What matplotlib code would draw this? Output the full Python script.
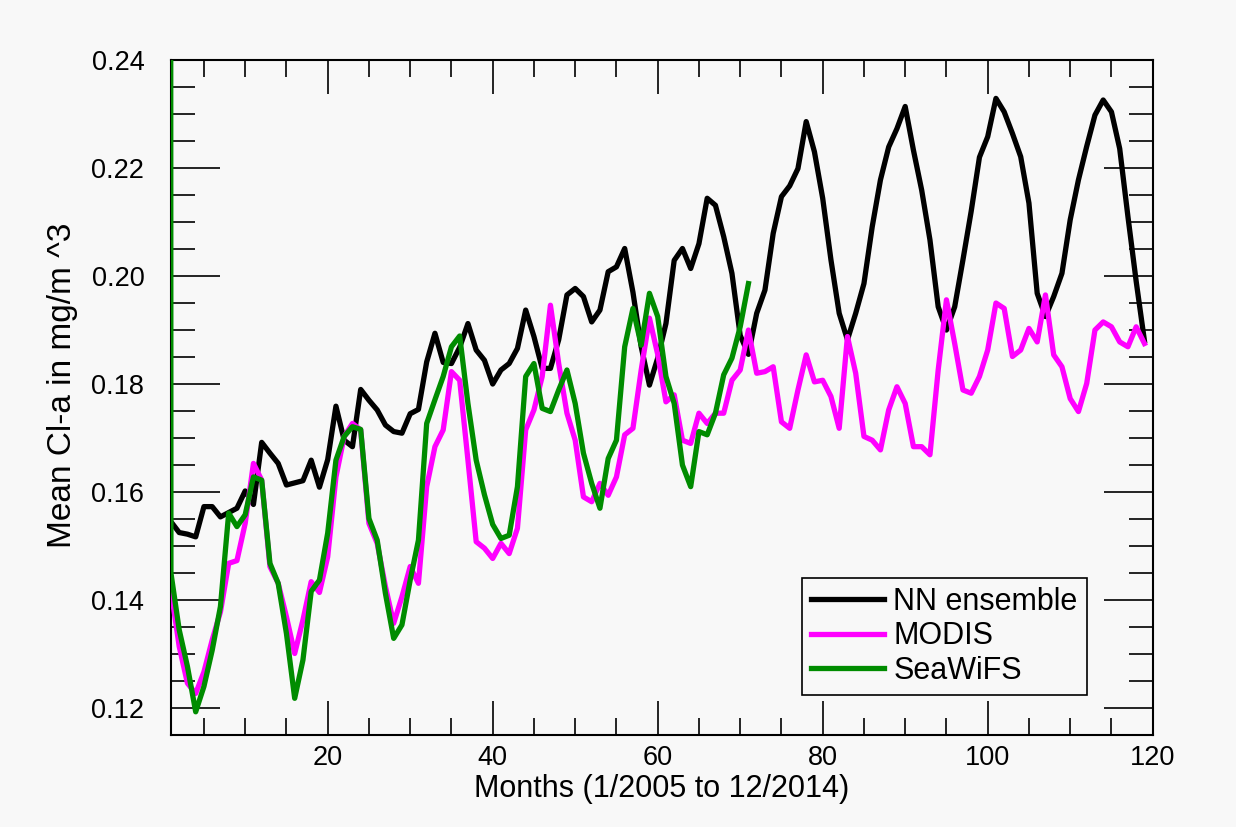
import numpy as np
import matplotlib.pyplot as plt
from matplotlib.ticker import MultipleLocator

months = np.arange(1, 120)
nn_ensemble = [
    0.1545, 0.1525, 0.1522, 0.1517, 0.1573, 0.1573, 0.1554, 0.1562, 0.1570, 0.1602,
    0.1577, 0.1692, 0.1672, 0.1653, 0.1613, 0.1617, 0.1621, 0.1659, 0.1609, 0.1660,
    0.1759, 0.1696, 0.1684, 0.1790, 0.1770, 0.1752, 0.1724, 0.1712, 0.1709, 0.1745,
    0.1753, 0.1841, 0.1894, 0.1840, 0.1838, 0.1868, 0.1912, 0.1863, 0.1844, 0.1800,
    0.1826, 0.1838, 0.1866, 0.1937, 0.1888, 0.1829, 0.1829, 0.1882, 0.1965, 0.1977,
    0.1962, 0.1915, 0.1937, 0.2008, 0.2017, 0.2051, 0.1970, 0.1869, 0.1798, 0.1848,
    0.1912, 0.2029, 0.2051, 0.2014, 0.2060, 0.2144, 0.2131, 0.2073, 0.2005, 0.1890,
    0.1855, 0.1931, 0.1974, 0.2079, 0.2147, 0.2167, 0.2199, 0.2286, 0.2230, 0.2144,
    0.2030, 0.1931, 0.1882, 0.1931, 0.1986, 0.2091, 0.2178, 0.2239, 0.2273, 0.2314,
    0.2233, 0.2159, 0.2067, 0.1943, 0.1900, 0.1943, 0.2030, 0.2120, 0.2220, 0.2258,
    0.2329, 0.2304, 0.2264, 0.2221, 0.2135, 0.1968, 0.1925, 0.1962, 0.2005, 0.2104,
    0.2178, 0.2240, 0.2298, 0.2326, 0.2304, 0.2236, 0.2110, 0.1990, 0.1880,
]
modis = [
    0.1420, 0.1314, 0.1246, 0.1227, 0.1267, 0.1326, 0.1378, 0.1468, 0.1473, 0.1542,
    0.1653, 0.1622, 0.1462, 0.1431, 0.1369, 0.1301, 0.1363, 0.1434, 0.1414, 0.1480,
    0.1628, 0.1703, 0.1727, 0.1715, 0.1542, 0.1505, 0.1425, 0.1357, 0.1406, 0.1462,
    0.1431, 0.1610, 0.1684, 0.1715, 0.1823, 0.1807, 0.1659, 0.1508, 0.1496, 0.1477,
    0.1505, 0.1486, 0.1533, 0.1715, 0.1752, 0.1814, 0.1946, 0.1838, 0.1746, 0.1696,
    0.1591, 0.1582, 0.1616, 0.1594, 0.1628, 0.1706, 0.1718, 0.1826, 0.1922, 0.1855,
    0.1767, 0.1780, 0.1696, 0.1690, 0.1746, 0.1727, 0.1746, 0.1746, 0.1807, 0.1826,
    0.1900, 0.1820, 0.1823, 0.1832, 0.1730, 0.1718, 0.1789, 0.1854, 0.1804, 0.1807,
    0.1777, 0.1718, 0.1888, 0.1820, 0.1703, 0.1696, 0.1678, 0.1752, 0.1795, 0.1764,
    0.1684, 0.1684, 0.1669, 0.1826, 0.1956, 0.1875, 0.1789, 0.1783, 0.1814, 0.1863,
    0.1950, 0.1940, 0.1851, 0.1863, 0.1903, 0.1878, 0.1965, 0.1854, 0.1832, 0.1773,
    0.1749, 0.1801, 0.1900, 0.1915, 0.1906, 0.1878, 0.1869, 0.1906, 0.1875,
]
# first SeaWiFS value is off scale (runs up the left axis)
sea_months = np.arange(0, 72)
seawifs = [
    4.0,
    0.1450, 0.1345, 0.1277, 0.1193, 0.1240, 0.1307, 0.1388, 0.1561, 0.1536, 0.1558,
    0.1628, 0.1622, 0.1468, 0.1431, 0.1338, 0.1218, 0.1289, 0.1416, 0.1437, 0.1524,
    0.1659, 0.1703, 0.1721, 0.1716, 0.1551, 0.1511, 0.1412, 0.1329, 0.1354, 0.1437,
    0.1511, 0.1727, 0.1771, 0.1814, 0.1869, 0.1889, 0.1764, 0.1659, 0.1595, 0.1540,
    0.1514, 0.1520, 0.1610, 0.1814, 0.1838, 0.1755, 0.1749, 0.1789, 0.1826, 0.1764,
    0.1672, 0.1616, 0.1570, 0.1662, 0.1696, 0.1869, 0.1940, 0.1872, 0.1968, 0.1925,
    0.1814, 0.1764, 0.1650, 0.1610, 0.1712, 0.1706, 0.1746, 0.1817, 0.1848, 0.1906,
    0.1986,
]

plt.rcParams['font.family'] = ['Liberation Sans', 'DejaVu Sans']
bg = '#f8f8f8'

fig = plt.figure(figsize=(12.36, 8.27), dpi=100, facecolor=bg)
ax = fig.add_axes([0.1381, 0.1112, 0.7945, 0.8162], facecolor=bg)

ax.plot(months, nn_ensemble, color='black', lw=3.8, label='NN ensemble', zorder=3)
ax.plot(months, modis, color='#ff00ff', lw=3.8, label='MODIS', zorder=3)
ax.plot(sea_months, seawifs, color='#008c00', lw=3.8, label='SeaWiFS', zorder=3)

ax.set_xlim(0.97, 120)
ax.set_ylim(0.115, 0.24)
ax.xaxis.set_major_locator(MultipleLocator(20))
ax.xaxis.set_minor_locator(MultipleLocator(5))
ax.yaxis.set_major_locator(MultipleLocator(0.02))
ax.yaxis.set_minor_locator(MultipleLocator(0.005))
ax.yaxis.set_major_formatter(plt.FormatStrFormatter('%.2f'))

ax.tick_params(axis='both', which='both', direction='in', top=True, right=True,
               width=1.2, colors='black', labelsize=19.5)
ax.tick_params(axis='x', which='major', length=24.5, pad=7)
ax.tick_params(axis='x', which='minor', length=12.2)
ax.tick_params(axis='y', which='major', length=35, pad=19)
ax.tick_params(axis='y', which='minor', length=17.5)
for s in ax.spines.values():
    s.set_linewidth(1.5)

ax.set_xlabel('Months (1/2005 to 12/2014)', fontsize=22, labelpad=2)
ax.set_ylabel('Mean Cl-a in mg/m ^3', fontsize=24)
ax.yaxis.set_label_coords(-0.094, 0.518)

leg = ax.legend(loc='lower right', bbox_to_anchor=(0.933, 0.059), borderaxespad=0,
                fontsize=22, frameon=True, fancybox=False, handlelength=2.4,
                handletextpad=0.3, labelspacing=0.15, borderpad=0.3)
leg.get_frame().set_edgecolor('black')
leg.get_frame().set_linewidth(1.2)
leg.get_frame().set_facecolor(bg)
leg.get_frame().set_alpha(1)

plt.savefig('out.png', dpi=100, facecolor=bg)
